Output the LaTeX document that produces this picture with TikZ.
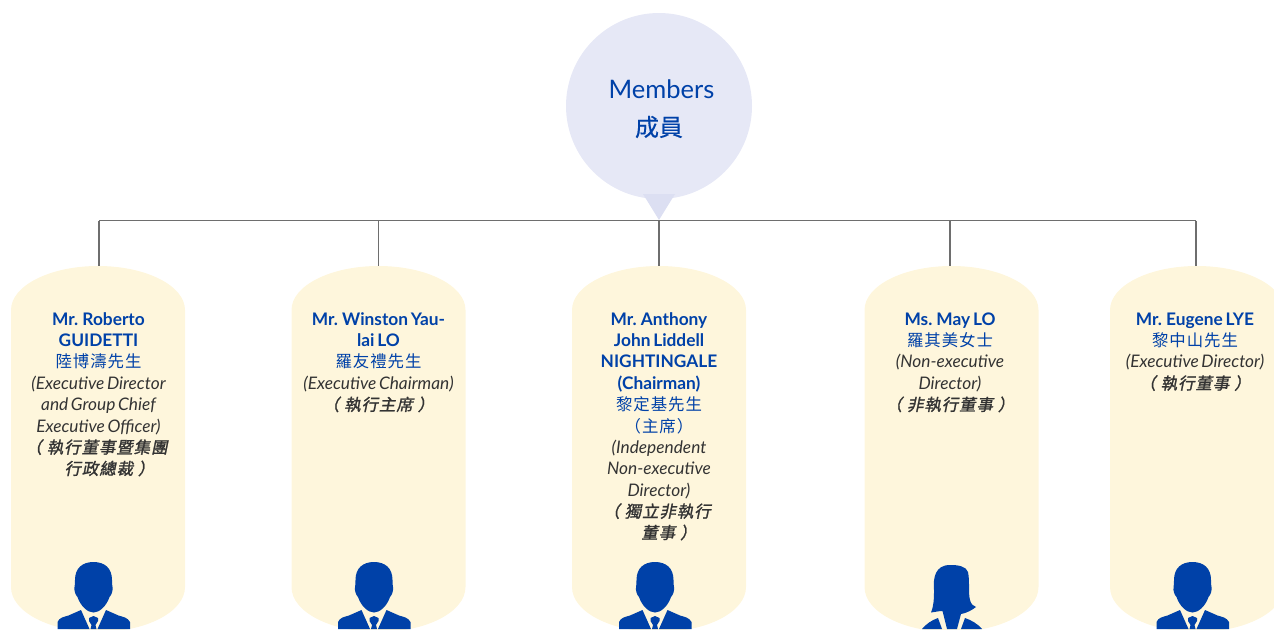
\documentclass[tikz,border=0pt]{standalone}
\usepackage{fontspec}
\setmainfont[WordSpace=0.65]{Lato}
\newfontfamily\cjkup[LetterSpace=6]{Noto Sans CJK TC}
\newfontfamily\cjkhub[FakeBold=0.4]{Noto Sans CJK TC}
\newfontfamily\cjkit[FakeSlant=0.2,FakeBold=1.5,LetterSpace=6]{Noto Sans CJK TC}
\definecolor{pillc}{HTML}{FEF6DC}
\definecolor{hubc}{HTML}{E6E8F6}
\definecolor{tipc}{HTML}{DCDFF2}
\definecolor{bluec}{HTML}{0041A8}
\definecolor{inkc}{HTML}{333333}
\definecolor{linec}{HTML}{6E6E6E}
\newcommand{\nm}[1]{{\bfseries\color{bluec}#1}}
\newcommand{\cn}[1]{{\cjkup\fontsize{16.4}{21.35}\selectfont\color{bluec}#1}}
\newcommand{\ro}[1]{{\itshape\color{inkc}#1}}
\newcommand{\ci}[1]{{\cjkit\fontsize{16.4}{21.35}\selectfont\color{inkc}#1}}
\newcommand{\gp}{\hspace{5pt}}
\tikzset{
  x=1pt,y=-1pt,
  conn/.style={draw=linec,line width=1.2pt},
  pillbox/.style={minimum width=174pt,minimum height=366pt,inner sep=0pt,outer sep=0pt},
  info/.style={anchor=north,align=center,inner sep=0pt,outer sep=0pt,font=\fontsize{17.3}{21.35}\selectfont,text depth=0pt},
  silhouette/.style={fill=bluec,draw=none}
}
% pill body: centre x
\newcommand{\pillshape}[1]{%
  \fill[pillc] (#1-87,310) arc[start angle=180,end angle=0,x radius=87,y radius=-44]
     -- (#1+87,587) arc[start angle=0,end angle=-180,x radius=87,y radius=-45] -- cycle;}
% male figure: head centre x
\newcommand{\malefig}[1]{%
\begin{scope}[shift={(#1,0)}]
  \fill[silhouette] (0,562) .. controls (11,562) and (18.5,568) .. (18.5,580)
    .. controls (18.5,583) and (18.5,585) .. (19,587)
    .. controls (19.5,591) and (18,595) .. (16,597)
    .. controls (13,606) and (6,612.5) .. (0,612.5)
    .. controls (-6,612.5) and (-13,606) .. (-16,597)
    .. controls (-18,595) and (-19.5,591) .. (-19,587)
    .. controls (-18.5,585) and (-18.5,583) .. (-18.5,580)
    .. controls (-18.5,568) and (-11,562) .. (0,562) -- cycle;
  \fill[silhouette] (-12.5,610) -- (-4,629) -- (-36,629) -- (-36,622)
    .. controls (-34,617.5) and (-30,617) .. (-25,615.5) -- cycle;
  \fill[silhouette] (12.5,610) -- (4,629) -- (36.5,629) -- (36.5,622)
    .. controls (34,617.5) and (30,617) .. (25,615.5) -- cycle;
  \fill[silhouette] (-4.5,618) -- (0,616) -- (4.5,618) -- (4.5,621) -- (2,625) -- (3,629) -- (-3,629) -- (-2,625) -- (-4.5,621) -- cycle;
\end{scope}}
% female figure
\newcommand{\femalefig}{%
  \fill[silhouette] (950,565) .. controls (958,565) and (966,566) .. (968,572)
    .. controls (970,582) and (968,592) .. (970,600)
    .. controls (971,604) and (973,606) .. (976,607)
    .. controls (972,610) and (967,613) .. (961,614)
    -- (957,629) -- (947,629) -- (942.5,611)
    .. controls (939,611) and (935,612) .. (931,612.5)
    .. controls (934,605) and (934,598) .. (934,590)
    .. controls (933,578) and (935,565) .. (950,565) -- cycle;
  \fill[silhouette] (922,629) .. controls (926,624) and (932,620) .. (938,618) -- (942,629) -- cycle;
  \fill[silhouette] (965,618) .. controls (971,620) and (978,624) .. (982,629) -- (961,629) -- cycle;}
\begin{document}
\begin{tikzpicture}
\useasboundingbox (0,0) rectangle (1274,629);
\begin{scope}
\clip (0,0) rectangle (1274,629);
\pillshape{98}\pillshape{378.5}\pillshape{659}\pillshape{951.5}\pillshape{1197}
\node[pillbox] (p1) at (99,449) {};
\node[pillbox] (p2) at (378.5,449) {};
\node[pillbox] (p3) at (659,449) {};
\node[pillbox] (p4) at (950,449) {};
\node[pillbox] (p5) at (1196,449) {};
\malefig{93.5}\malefig{374}\malefig{655}\femalefig\malefig{1192.5}
\end{scope}
% hub
\fill[hubc] (659,106) circle[radius=93];
\node[circle,minimum size=186pt,inner sep=0pt,outer sep=0pt,align=center,text=bluec] (hub) at (659,106) {};
\fill[tipc] (643,194) -- (675,194) -- (659,220) -- cycle;
\node[inner sep=0pt,text=bluec,font=\fontsize{25.5}{25.5}\selectfont] (hubA) at (661.5,89) {Members};
\node[inner sep=0pt,text=bluec,font=\fontsize{24}{24}\selectfont\cjkhub] (hubB) at (659,127) {成員};
\coordinate (busL) at (p1.north |- 0,220.5);
\coordinate (busR) at (p5.north |- 0,220.5);
\coordinate (busM) at (p3.north |- 0,220.5);
\draw[conn] (busL) -- (busR);
\draw[conn] (busL) -- (p1.north);
\draw[conn] (p2.north |- busM) -- (p2.north);
\draw[conn] (busM) -- (p3.north);
\draw[conn] (p4.north |- busM) -- (p4.north);
\draw[conn] (busR) -- (p5.north);
% texts
\node[info] (t1) at (98.5,310.3) {\strut\nm{Mr. Roberto}\\\nm{GUIDETTI}\\\cn{陸博濤先生}\\\ro{(Executive Director}\\\ro{and Group Chief}\\\ro{Executive Officer)}\\\ci{（\gp 執行董事暨集團\hspace*{4pt}}\\\ci{\hspace*{22pt}行政總裁\gp ）}};
\node[info] (t2) at (378.5,310.3) {\strut\nm{Mr. Winston Yau-}\\\nm{lai LO}\\\cn{羅友禮先生}\\\ro{(Executive Chairman)}\\\ci{（\gp 執行主席\gp ）}};
\node[info] (t3) at (659,310.3) {\strut\nm{Mr. Anthony}\\\nm{John Liddell}\\\nm{NIGHTINGALE}\\\nm{(Chairman)}\\\cn{黎定基先生}\\\cn{（主席）}\\\ro{(Independent}\\\ro{Non-executive}\\\ro{Director)}\\\ci{（\gp 獨立非執行\hspace*{4pt}}\\\ci{\hspace*{20pt}董事\gp ）}};
\node[info] (t4) at (950,310.3) {\strut\nm{Ms. May LO}\\\cn{羅其美女士}\\\ro{(Non-executive}\\\ro{Director)}\\\ci{（\gp 非執行董事\gp ）}};
\node[info] (t5) at (1195,310.3) {\strut\nm{Mr. Eugene LYE}\\\cn{黎中山先生}\\\ro{(Executive Director)}\\\ci{（\gp 執行董事\gp ）}};
\end{tikzpicture}
\end{document}
